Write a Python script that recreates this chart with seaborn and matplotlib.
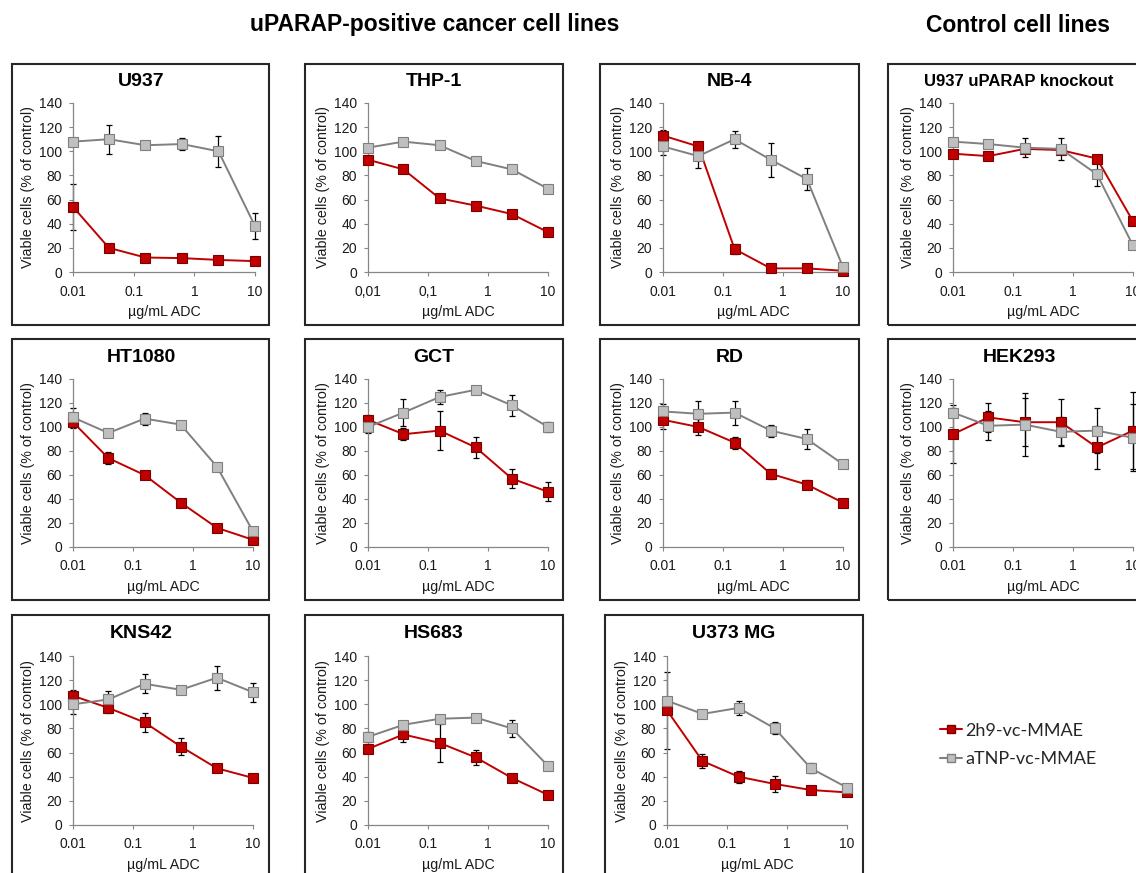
import numpy as np
import pandas as pd
import matplotlib
matplotlib.use('Agg')
import matplotlib.pyplot as plt
from matplotlib.patches import Rectangle
from matplotlib.lines import Line2D
from matplotlib.ticker import NullLocator
import seaborn as sns

sns.set_theme(style='white')
plt.rcParams['font.family'] = ['Liberation Sans', 'DejaVu Sans']

# ---------------- data ----------------
conc = [0.01, 0.039, 0.156, 0.625, 2.5, 10]
series_names = ['2h9-vc-MMAE', 'aTNP-vc-MMAE']
xtick_vals = [0.01, 0.1, 1, 10]
xtick_dot = ['0.01', '0.1', '1', '10']
xtick_comma = ['0,01', '0,1', '1', '10']
ytick_vals = [0, 20, 40, 60, 80, 100, 120, 140]

u937_2h9 = [54, 20, 12, 11.5, 10, 9]
u937_2h9_err = [19, 3, 1.5, 1.5, 1, 1]
u937_atnp = [108, 110, 105, 106, 100, 38]
u937_atnp_err = [3, 12, 2, 5, 13, 11]

thp1_2h9 = [93, 85, 61, 55, 48, 33]
thp1_2h9_err = [2, 2, 2, 2, 2, 2]
thp1_atnp = [103, 108, 105, 92, 85, 69]
thp1_atnp_err = [2, 2, 3, 2, 2, 3]

nb4_2h9 = [113, 104, 19, 3, 3, 1]
nb4_2h9_err = [5, 3, 4, 1, 1, 0.5]
nb4_atnp = [104, 96, 110, 93, 77, 4]
nb4_atnp_err = [7, 10, 7, 14, 9, 1]

ko_2h9 = [98, 96, 102, 101, 94, 42]
ko_2h9_err = [2, 1, 1, 1, 2, 2]
ko_atnp = [108, 106, 103, 102, 81, 22]
ko_atnp_err = [1, 1, 8, 9, 10, 1]

ht1080_2h9 = [104, 74, 60, 37, 16, 6]
ht1080_2h9_err = [5, 5, 2, 3, 2, 1]
ht1080_atnp = [108, 95, 107, 102, 67, 13]
ht1080_atnp_err = [8, 3, 5, 2, 1, 1]

gct_2h9 = [106, 94, 97, 83, 57, 46]
gct_2h9_err = [4, 5, 16, 9, 8, 8]
gct_atnp = [100, 112, 125, 131, 118, 100]
gct_atnp_err = [5, 11, 6, 1, 9, 4]

rd_2h9 = [106, 100, 87, 61, 52, 37]
rd_2h9_err = [8, 7, 5, 4, 4, 1]
rd_atnp = [113, 111, 112, 97, 90, 69]
rd_atnp_err = [6, 11, 10, 5, 8, 1]

hek_2h9 = [94, 108, 104, 104, 83, 97]
hek_2h9_err = [24, 12, 20, 19, 18, 32]
hek_atnp = [112, 101, 102, 96, 97, 91]
hek_atnp_err = [4, 12, 26, 12, 19, 28]

kns42_2h9 = [107, 97, 85, 65, 47, 39]
kns42_2h9_err = [5, 4, 8, 7, 2, 1]
kns42_atnp = [100, 104, 117, 112, 122, 110]
kns42_atnp_err = [8, 7, 8, 3, 10, 8]

hs683_2h9 = [63, 75, 68, 56, 39, 25]
hs683_2h9_err = [3, 6, 16, 6, 2, 3]
hs683_atnp = [73, 83, 88, 89, 80, 49]
hs683_atnp_err = [4, 1, 3, 1, 7, 3]

u373_2h9 = [95, 53, 40, 34, 29, 27]
u373_2h9_err = [32, 6, 5, 7, 2, 1]
u373_atnp = [103, 92, 97, 80, 47, 31]
u373_atnp_err = [2, 3, 6, 5, 4, 1]

# ---------------- layout (pixels) ----------------
W, H = 1136, 873
panels = [
    # title, red, red_err, grey, grey_err, axes x, axes y, box x, box y, title x, title y, title size, xticklabels
    ('U937', u937_2h9, u937_2h9_err, u937_atnp, u937_atnp_err, (73, 255), (103, 272), (12, 269), (64, 325), 141, 82, 14, xtick_dot),
    ('THP-1', thp1_2h9, thp1_2h9_err, thp1_atnp, thp1_atnp_err, (368, 548), (103, 272), (305, 563), (64, 325), 434, 82, 14, xtick_comma),
    ('NB-4', nb4_2h9, nb4_2h9_err, nb4_atnp, nb4_atnp_err, (663, 843), (103, 272), (600, 859), (64, 325), 730, 82, 14, xtick_dot),
    ('U937 uPARAP knockout', ko_2h9, ko_2h9_err, ko_atnp, ko_atnp_err, (953, 1133), (103, 272), (888, 1150), (64, 325), 1019, 82, 12, xtick_dot),
    ('HT1080', ht1080_2h9, ht1080_2h9_err, ht1080_atnp, ht1080_atnp_err, (73, 253), (379, 547), (12, 269), (339, 600), 141, 357, 14, xtick_dot),
    ('GCT', gct_2h9, gct_2h9_err, gct_atnp, gct_atnp_err, (368, 548), (379, 547), (305, 563), (339, 600), 434, 357, 14, xtick_dot),
    ('RD', rd_2h9, rd_2h9_err, rd_atnp, rd_atnp_err, (663, 843), (379, 547), (600, 859), (339, 600), 730, 357, 14, xtick_dot),
    ('HEK293', hek_2h9, hek_2h9_err, hek_atnp, hek_atnp_err, (953, 1133), (379, 547), (888, 1150), (339, 600), 1019, 357, 14, xtick_dot),
    ('KNS42', kns42_2h9, kns42_2h9_err, kns42_atnp, kns42_atnp_err, (73, 253), (656, 825), (12, 269), (615, 890), 141, 633, 14, xtick_dot),
    ('HS683', hs683_2h9, hs683_2h9_err, hs683_atnp, hs683_atnp_err, (368, 548), (656, 825), (305, 563), (615, 890), 434, 633, 14, xtick_dot),
    ('U373 MG', u373_2h9, u373_2h9_err, u373_atnp, u373_atnp_err, (667, 847), (656, 825), (605, 863), (615, 890), 734, 633, 14, xtick_dot),
]

RED = '#C00000'
RED_EDGE = '#7A0000'
GREY_LINE = '#808080'
GREY_FILL = '#BFBFBF'
GREY_EDGE = '#7F7F7F'
AXIS_COL = '#868686'
TXT = '#1a1a1a'

fig = plt.figure(figsize=(W / 100, H / 100), dpi=100)
fig.patch.set_facecolor('white')

styles = {
    series_names[0]: dict(color=RED, mfc=RED, mec=RED_EDGE),
    series_names[1]: dict(color=GREY_LINE, mfc=GREY_FILL, mec=GREY_EDGE),
}

for (title, red, red_err, grey, grey_err, axx, axy, bx, by, tx, ty, tsize, xlabels) in panels:
    ax = fig.add_axes([axx[0] / W, 1 - axy[1] / H, (axx[1] - axx[0]) / W, (axy[1] - axy[0]) / H])
    ax.set_xscale('log')
    df = pd.DataFrame({
        'conc': conc + conc,
        'viab': list(red) + list(grey),
        'err': list(red_err) + list(grey_err),
        'series': [series_names[0]] * len(conc) + [series_names[1]] * len(conc),
    })
    for name in series_names:
        sub = df[df['series'] == name]
        ax.errorbar(sub['conc'], sub['viab'], yerr=sub['err'], fmt='none', ecolor='black',
                    elinewidth=0.9, capsize=2, capthick=0.9, zorder=2, clip_on=False)
    for i, name in enumerate(series_names):
        sub = df[df['series'] == name]
        st = styles[name]
        sns.lineplot(data=sub, x='conc', y='viab', ax=ax, color=st['color'], marker='s',
                     markersize=7.5, markerfacecolor=st['mfc'], markeredgecolor=st['mec'],
                     markeredgewidth=0.8, linewidth=1.4, legend=False, errorbar=None,
                     zorder=3 + i, clip_on=False)
    ax.set_xlim(0.01, 10)
    ax.set_ylim(0, 140)
    ax.set_xticks(xtick_vals)
    ax.set_xticklabels(xlabels)
    ax.xaxis.set_minor_locator(NullLocator())
    ax.set_yticks(ytick_vals)
    ax.set_yticklabels([str(v) for v in ytick_vals])
    ax.set_xlabel('µg/mL ADC', fontsize=10.3, color=TXT, labelpad=4.5)
    ax.set_ylabel('Viable cells (% of control)', fontsize=10.3, color=TXT, labelpad=2.5)
    ax.tick_params(axis='both', which='major', direction='out', length=3, width=0.8,
                   color=AXIS_COL, labelsize=10, labelcolor=TXT, bottom=True, left=True)
    ax.tick_params(axis='x', pad=6)
    ax.tick_params(axis='y', pad=5)
    for s in ['top', 'right']:
        ax.spines[s].set_visible(False)
    for s in ['left', 'bottom']:
        ax.spines[s].set_color(AXIS_COL)
        ax.spines[s].set_linewidth(0.9)
    ax.set_facecolor('none')
    ax.grid(False)

    # panel frame
    fig.add_artist(Rectangle((bx[0] / W, 1 - by[1] / H), (bx[1] - bx[0]) / W, (by[1] - by[0]) / H,
                             transform=fig.transFigure, fill=False, lw=1.5, ec='#262626', zorder=0))
    # panel title
    fig.text(tx / W, 1 - ty / H, title, ha='center', va='center', fontsize=tsize,
             fontweight='bold', color='black')

# headers
fig.text(435 / W, 1 - 25 / H, 'uPARAP-positive cancer cell lines', ha='center', va='center',
         fontsize=16.5, fontweight='bold', color='black')
fig.text(1018 / W, 1 - 25 / H, 'Control cell lines', ha='center', va='center',
         fontsize=16.5, fontweight='bold', color='black')

# legend
handles = [
    Line2D([0], [0], color=RED, lw=1.5, marker='s', markersize=6, markerfacecolor=RED, markeredgecolor=RED_EDGE),
    Line2D([0], [0], color=GREY_LINE, lw=1.5, marker='s', markersize=6, markerfacecolor=GREY_FILL, markeredgecolor=GREY_EDGE),
]
fig.legend(handles, series_names, loc='center left', bbox_to_anchor=(940 / W, 1 - 745 / H),
           frameon=False, prop={'family': ['Lato', 'DejaVu Sans'], 'size': 13},
           handlelength=1.2, handletextpad=0.2, labelspacing=0.7, borderpad=0, borderaxespad=0,
           labelcolor='#262626')

fig.savefig('out.png', dpi=100, facecolor='white')
